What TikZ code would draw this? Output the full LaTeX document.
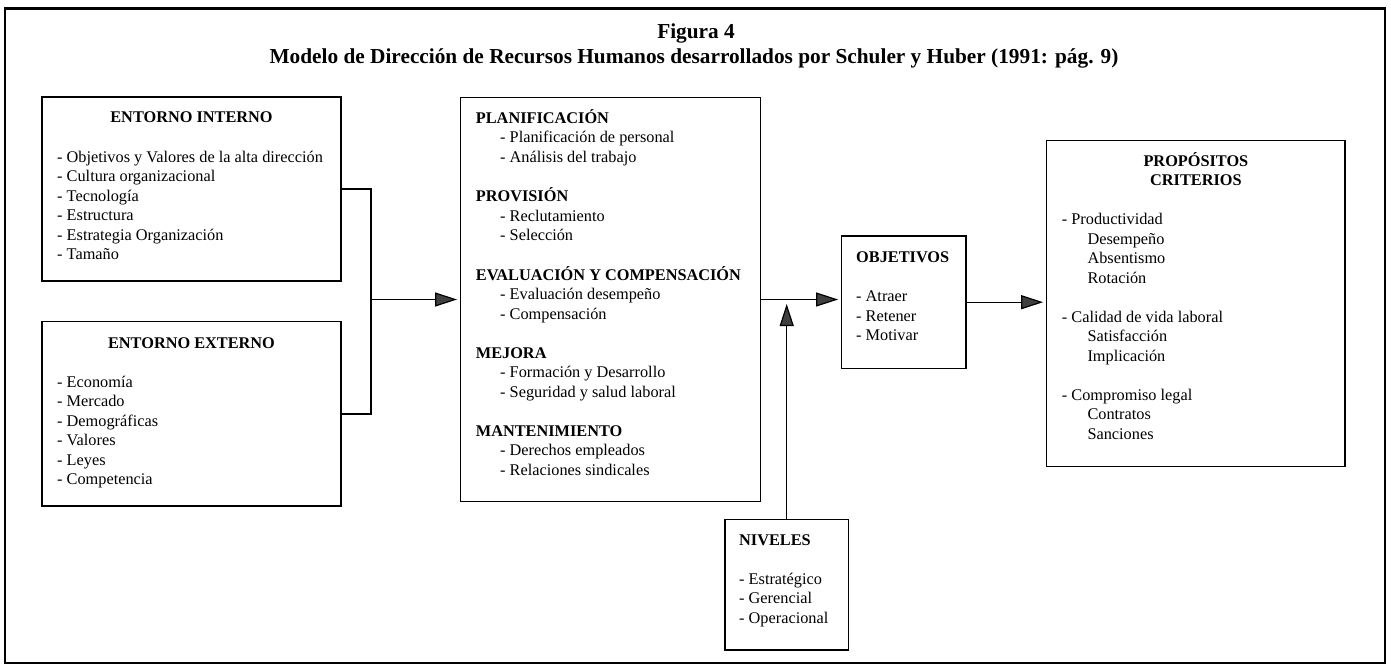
\documentclass[tikz,border=0pt]{standalone}
\usepackage{fontspec}
\setmainfont{Liberation Serif}
\usetikzlibrary{arrows.meta}
\newcommand\midind{\hspace*{24.3pt}}
\newcommand\rcind{\hspace*{25.6pt}}
\begin{document}
\begin{tikzpicture}[x=1pt,y=-1pt,
  box/.style={draw, rectangle, line width=1.3pt, inner sep=0pt},
  txt/.style={anchor=base west, inner sep=0pt, font=\fontsize{16.3}{19.5}\selectfont},
  hdc/.style={anchor=base, inner sep=0pt, font=\fontsize{16.3}{19.5}\selectfont\bfseries},
  ttl/.style={anchor=base, inner sep=0pt, font=\fontsize{21.3}{25}\selectfont\bfseries},
  conn/.style={line width=1.2pt},
  arr/.style={line width=1.2pt, -{Triangle[length=22pt,width=14pt,fill=black!75]}, shorten >=3pt}]
\useasboundingbox (0,0) rectangle (1391,666);
% outer frame
\node[draw, line width=2.3pt, minimum width=1380pt, minimum height=654.5pt, inner sep=0pt] (frame) at (695,335.75) {};
% titles
\node[ttl] (fig) at (696,39) {Figura 4};
\node[ttl] (sub) at (694,64) {Modelo de Dirección de Recursos Humanos desarrollados por Schuler y Huber (1991: pág. 9)};
% boxes
\node[box, minimum width=299pt, minimum height=184pt] (ei) at (191.5,189) {};
\node[box, minimum width=299pt, minimum height=184.3pt] (ee) at (191.5,413.9) {};
\node[box, minimum width=300pt, minimum height=404.4pt] (mid) at (610.7,299.5) {};
\node[box, minimum width=124.3pt, minimum height=132.3pt] (obj) at (903.9,302.2) {};
\node[box, minimum width=123.3pt, minimum height=130.7pt] (niv) at (786.7,584.7) {};
\node[box, minimum width=298.3pt, minimum height=326pt] (rc) at (1195.9,303.7) {};
% entorno interno
\node[hdc] (eit) at (191.5,123) {ENTORNO INTERNO};
\node[txt] (eil) at (57,162) {\begin{tabular}[t]{@{}l@{}}
- Objetivos y Valores de la alta dirección\\
- Cultura organizacional\\
- Tecnología\\
- Estructura\\
- Estrategia Organización\\
- Tamaño
\end{tabular}};
% entorno externo
\node[hdc] (eet) at (191.5,348.3) {ENTORNO EXTERNO};
\node[txt] (eel) at (57,387.3) {\begin{tabular}[t]{@{}l@{}}
- Economía\\
- Mercado\\
- Demográficas\\
- Valores\\
- Leyes\\
- Competencia
\end{tabular}};
% middle box
\node[txt] (midl) at (475.7,123.5) {\begin{tabular}[t]{@{}l@{}}
\textbf{PLANIFICACIÓN}\\
\midind- Planificación de personal\\
\midind- Análisis del trabajo\\
\\
\textbf{PROVISIÓN}\\
\midind- Reclutamiento\\
\midind- Selección\\
\\
\textbf{EVALUACIÓN Y COMPENSACIÓN}\\
\midind- Evaluación desempeño\\
\midind- Compensación\\
\\
\textbf{MEJORA}\\
\midind- Formación y Desarrollo\\
\midind- Seguridad y salud laboral\\
\\
\textbf{MANTENIMIENTO}\\
\midind- Derechos empleados\\
\midind- Relaciones sindicales
\end{tabular}};
% objetivos
\node[txt, font=\fontsize{16.3}{19.5}\selectfont\bfseries] (objt) at (856,262.5) {OBJETIVOS};
\node[txt] (objl) at (856,301.5) {\begin{tabular}[t]{@{}l@{}}
- Atraer\\
- Retener\\
- Motivar
\end{tabular}};
% niveles
\node[txt, font=\fontsize{16.3}{19.5}\selectfont\bfseries] (nivt) at (739,545) {NIVELES};
\node[txt] (nivl) at (739,584) {\begin{tabular}[t]{@{}l@{}}
- Estratégico\\
- Gerencial\\
- Operacional
\end{tabular}};
% propositos
\node[hdc] (rct) at (1195.9,166) {\begin{tabular}[t]{@{}c@{}}
PROPÓSITOS\\
CRITERIOS
\end{tabular}};
\node[txt] (rcl) at (1061.7,224.5) {\begin{tabular}[t]{@{}l@{}}
- Productividad\\
\rcind Desempeño\\
\rcind Absentismo\\
\rcind Rotación\\
\\
- Calidad de vida laboral\\
\rcind Satisfacción\\
\rcind Implicación\\
\\
- Compromiso legal\\
\rcind Contratos\\
\rcind Sanciones
\end{tabular}};
% connectors
\coordinate (j) at (371,299.5);
\coordinate (vt) at (786.7,304);
\draw[conn] (ei.east) -| (j) |- (ee.east);
\draw[arr] (j) -- (mid.west |- j);
\draw[arr] (mid.east) -- (mid.east -| obj.west);
\draw[arr] (obj.east) -- (obj.east -| rc.west);
\draw[arr, shorten >=0pt] (niv.north) -- (vt);
\end{tikzpicture}
\end{document}
